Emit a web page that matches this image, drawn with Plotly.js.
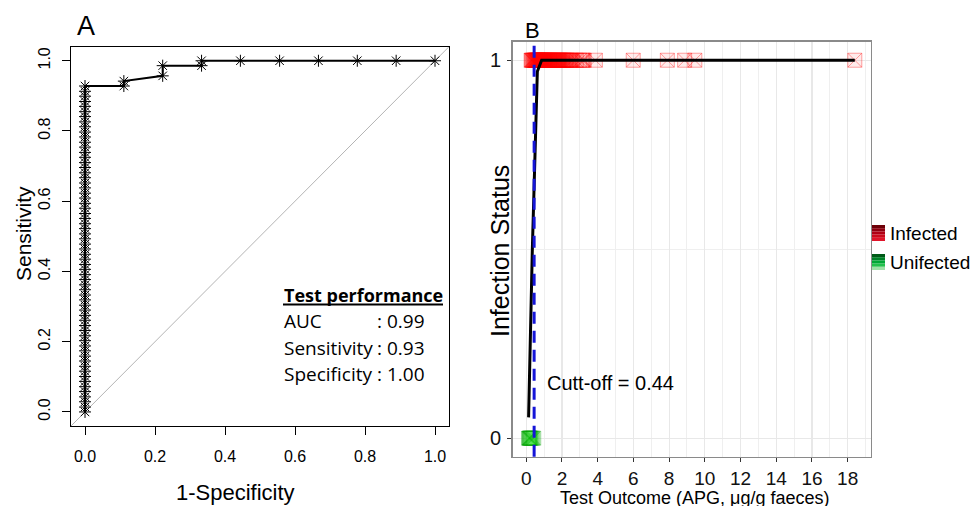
<!DOCTYPE html>
<html>
<head>
<meta charset="utf-8">
<script src="https://cdn.plot.ly/plotly-3.0.1.min.js"></script>
<style>html,body{margin:0;padding:0;background:#fff;}#chart{width:971px;height:506px;}</style>
</head>
<body>
<div id="chart"></div>
<script>
// ---------- Panel A: ROC curve (1-Specificity vs Sensitivity) ----------
const rocX = [0,0,0,0,0,0,0,0,0,0,0,0,0,0,0,0,0,0,0,0,0,0,0,0,0,0,0,0,0,0,0,0,0,0,0,0,0,0,0,0,0,0,0,0,0,0,0,0,0,0,0,0,0,0,0,0,0,0,0,0,0,0,0,0,0,
  0.111,0.111,0.222,0.222,0.333,0.333,0.444,0.556,0.667,0.778,0.889,1.0];
const rocY = [0,0.014,0.029,0.043,0.058,0.072,0.087,0.101,0.116,0.130,0.145,0.159,0.174,0.188,0.203,0.217,0.232,0.246,0.261,0.275,
  0.290,0.304,0.319,0.333,0.348,0.362,0.377,0.391,0.406,0.420,0.435,0.449,0.464,0.478,0.493,0.507,0.522,0.536,0.551,0.565,
  0.580,0.594,0.609,0.623,0.638,0.652,0.667,0.681,0.696,0.710,0.725,0.739,0.754,0.768,0.783,0.797,0.812,0.826,0.841,0.855,
  0.870,0.884,0.899,0.913,0.928,
  0.928,0.942,0.957,0.986,0.986,1,1,1,1,1,1,1];
const rocTicks = [0,0.2,0.4,0.6,0.8,1.0];
const rocTickText = ['0.0','0.2','0.4','0.6','0.8','1.0'];
const perfLabels = ['AUC','Sensitivity','Specificity'];
const perfValues = [': 0.99',': 0.93',': 1.00'];

// ---------- Panel B: infection status vs test outcome ----------
const infectedX = [0.27,0.30,0.33,0.37,0.41,
  0.45,0.47,0.50,0.52,0.55,0.58,0.60,0.62,0.65,0.68,
  0.70,0.72,0.75,0.78,0.80,0.83,0.86,0.90,0.93,0.96,
  1.00,1.03,1.07,1.10,1.14,1.18,1.22,1.26,1.30,1.34,
  1.38,1.42,1.47,1.52,1.56,1.60,1.65,1.70,1.75,1.80,
  1.85,1.90,1.96,2.02,2.08,2.14,2.20,2.26,2.32,2.38,
  2.45,2.52,2.60,
  2.80,3.00,3.15,3.20,3.25,3.87,5.99,7.90,8.87,9.44,18.40];
const uninfectedX = [0.13,0.15,0.18,0.20,0.22,0.25,0.30,0.36,0.42];
const infectedStatus = 1, uninfectedStatus = 0;
const fitX = [0.13,0.25,0.34,0.62,0.86,18.40];
const fitY = [0.055,0.37,0.50,0.97,1.00,1.00];
const cutoff = 0.44;
const statusTicks = [0,1];
const outcomeTicks = [0,2,4,6,8,10,12,14,16,18];
const legendNames = ['Infected','Unifected'];

// ---------- layout helpers ----------
const W = 971, H = 506;
const px = x => x / W, py = y => 1 - y / H;
const ARIAL = 'Liberation Sans, Arial, sans-serif';
const CAL = 'Open Sans, Noto Sans, sans-serif';
const rangeA = [-0.04, 1.04];
const rangeBx = [-0.76, 19.29];
const rangeBy = [-0.049, 1.049];

const traces = [
  {x: rocX, y: rocY, xaxis: 'x', yaxis: 'y', type: 'scatter', mode: 'lines+markers',
   line: {color: '#000', width: 2},
   marker: {symbol: 'asterisk-open', size: 10, color: '#000', line: {color: '#000', width: 1}},
   showlegend: false, hoverinfo: 'x+y'},
  {x: infectedX, y: infectedX.map(() => infectedStatus), xaxis: 'x2', yaxis: 'y2', type: 'scatter', mode: 'markers',
   name: legendNames[0],
   marker: {symbol: 'square-x', size: 14, color: 'rgba(255,0,0,0.08)', line: {color: 'rgba(255,0,0,0.36)', width: 1}},
   showlegend: false, cliponaxis: false},
  {x: uninfectedX, y: uninfectedX.map(() => uninfectedStatus), xaxis: 'x2', yaxis: 'y2', type: 'scatter', mode: 'markers',
   name: legendNames[1],
   marker: {symbol: 'square-x', size: 14, color: 'rgba(0,205,0,0.11)', line: {color: 'rgba(0,160,0,0.32)', width: 1}},
   showlegend: false, cliponaxis: false},
  {x: fitX, y: fitY, xaxis: 'x2', yaxis: 'y2', type: 'scatter', mode: 'lines',
   line: {color: '#000', width: 3}, showlegend: false}
];

const shapes = [
  // diagonal reference line for panel A
  {type: 'line', xref: 'x', yref: 'y', x0: rangeA[0], y0: rangeA[0], x1: rangeA[1], y1: rangeA[1],
   line: {color: '#b4b4b4', width: 1}, layer: 'below'},
  // cut-off line
  {type: 'line', xref: 'x2', yref: 'y2 domain', x0: cutoff, x1: cutoff, y0: 0, y1: 1,
   line: {color: '#1515d8', width: 3, dash: '12px,7px'}, layer: 'above'},
  // underline of "Test performance"
  {type: 'line', xref: 'paper', yref: 'paper', x0: px(283), x1: px(443), y0: py(304.5), y1: py(304.5),
   line: {color: '#000', width: 2}}
];
// legend keys (gradient squares)
const legendKeys = [
  {y0: 225, cols: ['#6e0008','#8e0010','#b00014','#cc0a1c','#e0142a']},
  {y0: 254, cols: ['#005a18','#008228','#00a636','#22c04c','#9fe0a8']}
];
legendKeys.forEach(k => {
  const h = 16 / k.cols.length;
  k.cols.forEach((c, i) => shapes.push({type: 'rect', xref: 'paper', yref: 'paper',
    x0: px(872), x1: px(885), y0: py(k.y0 + i * h), y1: py(k.y0 + (i + 1) * h),
    fillcolor: c, line: {width: 0}}));
});

const ann = (text, x, y, opts) => Object.assign({text, x: px(x), y: py(y), xref: 'paper', yref: 'paper',
  showarrow: false, xanchor: 'center', yanchor: 'middle', font: {family: ARIAL, size: 20, color: '#000'}}, opts || {});

const annotations = [
  ann('A', 86, 26, {font: {family: ARIAL, size: 27, color: '#000'}}),
  ann('B', 532.5, 31, {font: {family: ARIAL, size: 22, color: '#000'}}),
  ann('Sensitivity', 23, 234, {textangle: -90, font: {family: ARIAL, size: 21, color: '#000'}}),
  ann('1-Specificity', 235, 492, {font: {family: ARIAL, size: 22, color: '#000'}}),
  ann('Infection Status', 500, 251, {textangle: -90, font: {family: ARIAL, size: 25, color: '#000'}}),
  ann('Test Outcome (APG, μg/g faeces)', 694.5, 497.5, {font: {family: ARIAL, size: 18, color: '#000'}}),
  ann('Cutt-off = 0.44', 545, 383, {xanchor: 'left', font: {family: ARIAL, size: 20, color: '#000'}}),
  ann('<b>Test performance</b>', 282, 295, {xanchor: 'left', font: {family: CAL, size: 18, color: '#000'}}),
  ann(legendNames[0], 888, 233, {xanchor: 'left', font: {family: ARIAL, size: 19, color: '#000'}}),
  ann(legendNames[1], 888, 262, {xanchor: 'left', font: {family: ARIAL, size: 19, color: '#000'}})
];
perfLabels.forEach((l, i) => {
  annotations.push(ann(l, 282, 321 + i * 26.5, {xanchor: 'left', font: {family: CAL, size: 19, color: '#000'}}));
  annotations.push(ann(perfValues[i], 375, 321 + i * 26.5, {xanchor: 'left', font: {family: CAL, size: 19, color: '#000'}}));
});

const layout = {
  width: W, height: H, margin: {l: 0, r: 0, t: 0, b: 0},
  paper_bgcolor: '#fff', plot_bgcolor: '#fff', showlegend: false,
  xaxis: {domain: [px(71), px(449)], anchor: 'y', range: rangeA, tickvals: rocTicks, ticktext: rocTickText,
    ticks: 'outside', ticklen: 8, tickcolor: '#000', tickwidth: 1, ticklabelstandoff: 8,
    showline: true, linecolor: '#000', linewidth: 1, mirror: true, showgrid: false, zeroline: false,
    tickfont: {family: ARIAL, size: 16, color: '#000'}},
  yaxis: {domain: [py(426), py(46.7)], anchor: 'x', range: rangeA, tickvals: rocTicks, ticktext: rocTickText,
    ticks: 'outside', ticklen: 8, tickcolor: '#000', tickwidth: 1, tickangle: -90, ticklabelstandoff: 6,
    showline: true, linecolor: '#000', linewidth: 1, mirror: true, showgrid: false, zeroline: false,
    tickfont: {family: ARIAL, size: 16, color: '#000'}},
  xaxis2: {domain: [px(512.7), px(870.7)], anchor: 'y2', range: rangeBx, tickvals: outcomeTicks,
    ticks: 'outside', ticklen: 4, tickcolor: '#333', tickwidth: 1, ticklabelstandoff: 0,
    showline: true, linecolor: '#8a8a8a', linewidth: 1.5, mirror: true,
    showgrid: true, gridcolor: '#e8e8e8', gridwidth: 1.2, zeroline: false,
    minor: {dtick: 1, tick0: 0, showgrid: true, gridcolor: '#efefef', gridwidth: 1},
    tickfont: {family: ARIAL, size: 19, color: '#111'}},
  yaxis2: {domain: [py(456.7), py(41.7)], anchor: 'x2', range: rangeBy, tickvals: statusTicks,
    ticks: 'outside', ticklen: 4, tickcolor: '#333', tickwidth: 1, ticklabelstandoff: 2,
    showline: true, linecolor: '#8a8a8a', linewidth: 1.5, mirror: true,
    showgrid: true, gridcolor: '#e8e8e8', gridwidth: 1.2, zeroline: false,
    minor: {tickvals: [0.5], showgrid: true, gridcolor: '#efefef', gridwidth: 1},
    tickfont: {family: ARIAL, size: 20, color: '#111'}},
  shapes, annotations
};

Plotly.newPlot('chart', traces, layout, {staticPlot: true, displayModeBar: false});
</script>
</body>
</html>
